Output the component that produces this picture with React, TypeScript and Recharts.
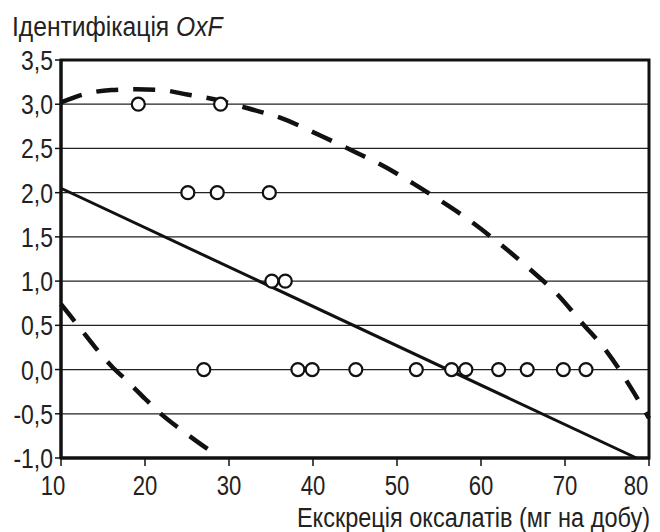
import React from 'react';
import { ComposedChart, Line, Scatter, XAxis, YAxis, CartesianGrid, ReferenceArea, Label } from 'recharts';

// tick values
const xTicks = [10, 20, 30, 40, 50, 60, 70, 80];
const yTicks = [-1, -0.5, 0, 0.5, 1, 1.5, 2, 2.5, 3, 3.5];

// observed points (excretion, identification)
const observations = [
  { x: 19.2, y: 3 }, { x: 29.0, y: 3 },
  { x: 25.1, y: 2 }, { x: 28.6, y: 2 }, { x: 34.8, y: 2 },
  { x: 35.1, y: 1 }, { x: 36.7, y: 1 },
  { x: 27.0, y: 0 }, { x: 38.2, y: 0 }, { x: 39.9, y: 0 }, { x: 45.1, y: 0 },
  { x: 52.3, y: 0 }, { x: 56.5, y: 0 }, { x: 58.2, y: 0 }, { x: 62.1, y: 0 },
  { x: 65.5, y: 0 }, { x: 69.8, y: 0 }, { x: 72.5, y: 0 },
];

// regression line
const regression = [
  { x: 10, y: 2.05 },
  { x: 78.5, y: -1.0 },
];

// upper band
const upperBand = [
  { x: 10, y: 3.02 }, { x: 13, y: 3.12 }, { x: 16, y: 3.16 }, { x: 19, y: 3.17 },
  { x: 22, y: 3.16 }, { x: 25, y: 3.11 }, { x: 29, y: 3.04 }, { x: 32, y: 2.96 },
  { x: 36, y: 2.85 }, { x: 41, y: 2.64 }, { x: 45, y: 2.46 }, { x: 48, y: 2.32 },
  { x: 52, y: 2.1 }, { x: 55, y: 1.92 }, { x: 58, y: 1.73 }, { x: 62, y: 1.44 },
  { x: 66, y: 1.12 }, { x: 69, y: 0.86 }, { x: 72, y: 0.53 }, { x: 75, y: 0.2 },
  { x: 78, y: -0.23 }, { x: 80, y: -0.55 },
];

// lower band
const lowerBand = [
  { x: 10, y: 0.74 }, { x: 12, y: 0.5 }, { x: 14, y: 0.26 }, { x: 16, y: 0.04 },
  { x: 18, y: -0.14 }, { x: 20, y: -0.33 }, { x: 22, y: -0.51 }, { x: 24, y: -0.66 },
  { x: 26, y: -0.8 }, { x: 28.7, y: -0.98 },
];

const FONT = '"Liberation Sans", Arial, Helvetica, sans-serif';
const INK = '#222';

const fmtY = (v: number) => v.toFixed(1).replace('.', ',');

// condensed-looking text (the original uses a narrow face)
const Narrow = ({ x, y, sx, fs = 28, anchor, children }: any) => (
  <text
    transform={`translate(${x},${y}) scale(${sx},1)`}
    x={0}
    y={0}
    textAnchor={anchor}
    fontSize={fs}
    fontFamily={FONT}
    fill={INK}
  >
    {children}
  </text>
);

const XTick = (props: any) => {
  const { x, y, payload, index, visibleTicksCount } = props;
  let dx = 0;
  if (index === 0) dx = -8;
  if (index === visibleTicksCount - 1) dx = -13;
  return (
    <Narrow x={x + dx} y={y + 29} sx={0.82} fs={27} anchor="middle">
      {payload.value}
    </Narrow>
  );
};

const YTick = (props: any) => {
  const { x, y, payload } = props;
  return (
    <Narrow x={x} y={y + 10} sx={0.82} anchor="end">
      {fmtY(payload.value)}
    </Narrow>
  );
};

const App: React.FC = () => {
  return (
    <div style={{ position: 'absolute', left: 0, top: 0, background: '#fff' }}>
      <ComposedChart width={660} height={532} margin={{ top: 60, right: 11, left: 0, bottom: 0 }}>
        <CartesianGrid vertical={false} stroke="#222" strokeWidth={1.2} />
        <XAxis
          type="number"
          dataKey="x"
          domain={[10, 80]}
          ticks={xTicks}
          height={74}
          tickSize={8}
          tickMargin={0}
          axisLine={{ stroke: '#111', strokeWidth: 3 }}
          tickLine={{ stroke: '#111', strokeWidth: 1.5 }}
          tick={<XTick />}
          interval={0}
        >
          <Label
            content={(props: any) => {
              const vb = props.viewBox;
              return (
                <Narrow x={vb.x + vb.width + 1} y={vb.y + 69} sx={0.84} anchor="end">
                  Екскреція оксалатів (мг на добу)
                </Narrow>
              );
            }}
          />
        </XAxis>
        <YAxis
          type="number"
          dataKey="y"
          domain={[-1, 3.5]}
          ticks={yTicks}
          width={61}
          tickSize={6}
          tickMargin={2}
          axisLine={{ stroke: '#111', strokeWidth: 3 }}
          tickLine={{ stroke: '#111', strokeWidth: 1.5 }}
          tick={<YTick />}
          interval={0}
        >
          <Label
            content={(props: any) => {
              const vb = props.viewBox;
              return (
                <Narrow x={vb.x + 12} y={vb.y - 24} sx={0.88} anchor="start">
                  Ідентифікація <tspan fontStyle="italic">OxF</tspan>
                </Narrow>
              );
            }}
          />
        </YAxis>
        <ReferenceArea x1={10} x2={80} y1={-1} y2={3.5} fill="none" stroke="#111" strokeWidth={3} />
        <Line
          data={upperBand}
          dataKey="y"
          type="monotone"
          stroke="#111"
          strokeWidth={4.5}
          strokeDasharray="22 15"
          dot={false}
          activeDot={false}
          isAnimationActive={false}
        />
        <Line
          data={lowerBand}
          dataKey="y"
          type="monotone"
          stroke="#111"
          strokeWidth={4.5}
          strokeDasharray="22 15"
          dot={false}
          activeDot={false}
          isAnimationActive={false}
        />
        <Line
          data={regression}
          dataKey="y"
          type="linear"
          stroke="#111"
          strokeWidth={3}
          dot={false}
          activeDot={false}
          isAnimationActive={false}
        />
        <Scatter
          data={observations}
          isAnimationActive={false}
          shape={(p: any) => <circle cx={p.cx} cy={p.cy} r={6.5} fill="#fff" stroke="#111" strokeWidth={2.2} />}
        />
      </ComposedChart>
    </div>
  );
};

export default App;
